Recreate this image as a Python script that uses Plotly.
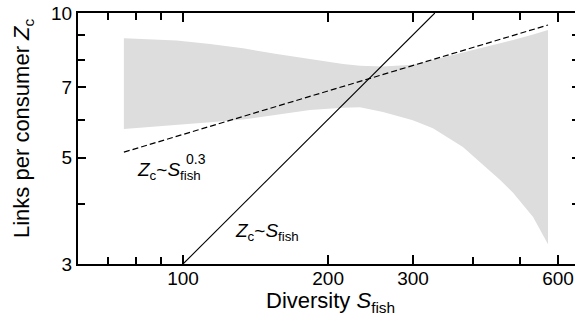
import numpy as np
import plotly.graph_objects as go

# ---- data ----
band_x = [75.4, 86.0, 97.0, 113.8, 133.2, 156.5, 183.4, 214.8, 232.9, 260.0, 299.8, 330.0, 380.8, 455.0, 483.9, 532.5, 571.8]
band_upper = [8.86, 8.82, 8.76, 8.62, 8.44, 8.21, 8.01, 7.83, 7.76, 7.74, 7.80, 7.98, 8.27, 8.65, 8.78, 9.02, 9.22]
band_lower = [5.73, 5.79, 5.84, 5.92, 6.00, 6.14, 6.28, 6.35, 6.36, 6.22, 5.98, 5.75, 5.26, 4.49, 4.22, 3.76, 3.30]

dashed_x = [75.4, 571.8]
dashed_y = [5.13, 9.44]

solid_x = [100, 333]
solid_y = [3.0, 10.0]

x_tickvals = [100, 200, 300, 600]
x_ticktext = ["100", "200", "300", "600"]
x_minor = [70, 80, 90, 400, 500]
y_tickvals = [3, 5, 7, 10]
y_ticktext = ["3", "5", "7", "10"]
y_minor = [4, 6, 8, 9]

FONT = "Liberation Sans, Arial, sans-serif"
W, H = 575, 325
L, R, T, B = 78, 0, 13, 61

fig = go.Figure()
fig.add_trace(go.Scatter(
    x=band_x + band_x[::-1], y=band_upper + band_lower[::-1],
    fill="toself", fillcolor="#dddddd", line=dict(width=0),
    mode="lines", hoverinfo="skip", showlegend=False))
fig.add_trace(go.Scatter(
    x=dashed_x, y=dashed_y, mode="lines",
    line=dict(color="black", width=1.2, dash="6px,3px"), showlegend=False))
fig.add_trace(go.Scatter(
    x=solid_x, y=solid_y, mode="lines",
    line=dict(color="black", width=1.1), showlegend=False))
# invisible traces to carry the top and right tick axes
fig.add_trace(go.Scatter(
    x=dashed_x, y=dashed_y, yaxis="y2", mode="lines", opacity=0,
    hoverinfo="skip", showlegend=False))
fig.add_trace(go.Scatter(
    x=dashed_x, y=dashed_y, xaxis="x2", mode="lines", opacity=0,
    hoverinfo="skip", showlegend=False))

xr = [np.log10(100) - (183 - L) / 482, np.log10(100) + (W - 183) / 482]
yr = [np.log10(3), 1.0]

tick_common = dict(ticks="inside", tickwidth=1.5, tickcolor="#000000",
                   showgrid=False, zeroline=False)
minor_common = dict(tickmode="array", ticks="inside", ticklen=7,
                    tickwidth=1.5, tickcolor="#000000", showgrid=False)

fig.update_layout(
    width=W, height=H, margin=dict(l=L, r=R, t=T, b=B),
    plot_bgcolor="white", paper_bgcolor="white",
    font=dict(family=FONT, color="black", size=19),
    xaxis=dict(type="log", range=xr, showline=True, linewidth=2, linecolor="black",
               mirror=True, ticklen=9,
               tickmode="array", tickvals=x_tickvals, ticktext=x_ticktext,
               minor=dict(tickvals=x_minor, **minor_common),
               ticklabelstandoff=-4, tickfont=dict(size=19, family=FONT), **tick_common),
    xaxis2=dict(type="log", range=xr, overlaying="x", side="top", showline=False,
                ticklen=9, tickmode="array", tickvals=x_tickvals, showticklabels=False,
                minor=dict(tickvals=x_minor, **minor_common),
                **tick_common),
    yaxis=dict(type="log", range=yr, showline=True, linewidth=2, linecolor="black",
               ticklen=8,
               tickmode="array", tickvals=y_tickvals, ticktext=y_ticktext,
               minor=dict(tickvals=y_minor, **minor_common),
               tickfont=dict(size=19, family=FONT), **tick_common),
    yaxis2=dict(type="log", range=yr, overlaying="y", side="right", showline=False,
                ticklen=3, tickmode="array", tickvals=y_tickvals + y_minor,
                showticklabels=False, **tick_common),
)

pw = W - L - R
ph = H - T - B


def px2paper(px, py):
    return (px - L) / pw, (H - B - py) / ph


annots = []
ax, ay = px2paper(330, 302)
annots.append(dict(text="Diversity <i>S</i><sub>fish</sub>", x=ax, y=ay, xref="paper", yref="paper",
                   xanchor="center", yanchor="middle", showarrow=False,
                   font=dict(size=22, family=FONT)))
ax, ay = px2paper(23, 128)
annots.append(dict(text="Links per consumer <i>Z</i><sub>c</sub>", x=ax, y=ay, xref="paper", yref="paper",
                   xanchor="center", yanchor="middle", textangle=-90, showarrow=False,
                   font=dict(size=22, family=FONT)))
ax, ay = px2paper(135, 171)
annots.append(dict(text="<i>Z</i><sub>c</sub>~<i>S</i><sub>fish</sub>", x=ax, y=ay, xref="paper", yref="paper",
                   xanchor="left", yanchor="middle", showarrow=False,
                   font=dict(size=19, family=FONT)))
ax, ay = px2paper(184, 159)
annots.append(dict(text="0.3", x=ax, y=ay, xref="paper", yref="paper",
                   xanchor="left", yanchor="middle", showarrow=False,
                   font=dict(size=14, family=FONT)))
ax, ay = px2paper(233, 232)
annots.append(dict(text="<i>Z</i><sub>c</sub>~<i>S</i><sub>fish</sub>", x=ax, y=ay, xref="paper", yref="paper",
                   xanchor="left", yanchor="middle", showarrow=False,
                   font=dict(size=19, family=FONT)))
fig.update_layout(annotations=annots)

fig.write_html("out.html")
